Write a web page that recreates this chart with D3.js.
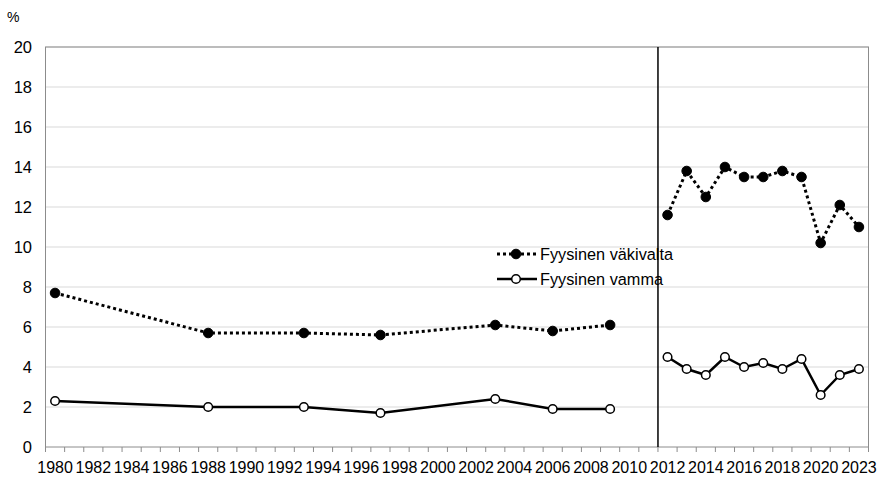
<!DOCTYPE html>
<html><head><meta charset="utf-8">
<script src="https://cdn.jsdelivr.net/npm/d3@7"></script>
<style>body{margin:0;background:#fff}text{font-family:"Liberation Sans",Arial,sans-serif;fill:#000}</style>
</head><body>
<svg id="c" width="881" height="477"></svg>
<script>
const categories = [];
for (let y = 1980; y <= 2021; y++) categories.push(String(y));
categories.push("2023");
const xTickLabels = ["1980","1982","1984","1986","1988","1990","1992","1994","1996","1998","2000","2002","2004","2006","2008","2010","2012","2014","2016","2018","2020","2023"];
const yTicks = [0,2,4,6,8,10,12,14,16,18,20];

const yearsA = ["1980","1988","1993","1997","2003","2006","2009"];
const vakivaltaA = [7.7,5.7,5.7,5.6,6.1,5.8,6.1];
const vammaA = [2.3,2.0,2.0,1.7,2.4,1.9,1.9];

const yearsB = ["2012","2013","2014","2015","2016","2017","2018","2019","2020","2021","2023"];
const vakivaltaB = [11.6,13.8,12.5,14.0,13.5,13.5,13.8,13.5,10.2,12.1,11.0];
const vammaB = [4.5,3.9,3.6,4.5,4.0,4.2,3.9,4.4,2.6,3.6,3.9];

const seriesNames = ["Fyysinen väkivalta","Fyysinen vamma"];

const svg = d3.select("#c");
const L = 45.5, R = 868.5, T = 47, B = 447;
const x = d3.scaleBand().domain(categories).range([L, R]).padding(0);
const y = d3.scaleLinear().domain([0, 20]).range([B, T]);
const cx = d => x(d) + x.bandwidth() / 2;

// gridlines
svg.append("g").selectAll("line").data(yTicks.filter(v => v > 0)).join("line")
  .attr("x1", L).attr("x2", R).attr("y1", d => y(d)).attr("y2", d => y(d))
  .attr("stroke", "#d9d9d9").attr("stroke-width", 1);

// plot border
svg.append("rect").attr("x", L).attr("y", T).attr("width", R - L).attr("height", B - T)
  .attr("fill", "none").attr("stroke", "#8c8c8c").attr("stroke-width", 1);

// y labels
svg.append("g").selectAll("text").data(yTicks).join("text")
  .attr("x", 32).attr("y", d => y(d)).attr("dy", "0.36em").attr("text-anchor", "end")
  .attr("font-size", 16.5).text(d => d);
svg.append("text").attr("x", 7).attr("y", 22).attr("font-size", 14).text("%");

// x ticks at boundaries
const bounds = categories.map(c => x(c)).concat([R]);
svg.append("g").selectAll("line").data(bounds).join("line")
  .attr("x1", d => d).attr("x2", d => d).attr("y1", B).attr("y2", B + 5)
  .attr("stroke", "#8c8c8c").attr("stroke-width", 1);

// x labels
svg.append("g").selectAll("text").data(xTickLabels).join("text")
  .attr("x", d => cx(d)).attr("y", 473).attr("text-anchor", "middle")
  .attr("font-size", 16).text(d => d);

// separator between 2011 and 2012
svg.append("line").attr("x1", x("2012")).attr("x2", x("2012")).attr("y1", T).attr("y2", B)
  .attr("stroke", "#000").attr("stroke-width", 1.5);

const line = d3.line().x(d => cx(d[0])).y(d => y(d[1]));
function drawSeries(years, vals, dotted) {
  const pts = years.map((yr, i) => [yr, vals[i]]);
  svg.append("path").attr("d", line(pts)).attr("fill", "none").attr("stroke", "#000")
    .attr("stroke-width", dotted ? 3 : 2.5)
    .attr("stroke-dasharray", dotted ? "3,3" : null);
  svg.append("g").selectAll("circle").data(pts).join("circle")
    .attr("cx", d => cx(d[0])).attr("cy", d => y(d[1])).attr("r", dotted ? 4.8 : 4.3)
    .attr("fill", dotted ? "#000" : "#fff").attr("stroke", "#000").attr("stroke-width", dotted ? 1 : 1.5);
}
drawSeries(yearsA, vakivaltaA, true);
drawSeries(yearsB, vakivaltaB, true);
drawSeries(yearsA, vammaA, false);
drawSeries(yearsB, vammaB, false);

// legend
const lg = svg.append("g");
[[0, true], [1, false]].forEach(([i, dotted]) => {
  const ly = 254 + i * 25;
  lg.append("line").attr("x1", 497).attr("x2", 537).attr("y1", ly).attr("y2", ly)
    .attr("stroke", "#000").attr("stroke-width", dotted ? 3 : 2.5)
    .attr("stroke-dasharray", dotted ? "3,3" : null);
  lg.append("circle").attr("cx", 516).attr("cy", ly).attr("r", dotted ? 4.8 : 4.3)
    .attr("fill", dotted ? "#000" : "#fff").attr("stroke", "#000").attr("stroke-width", dotted ? 1 : 1.5);
  lg.append("text").attr("x", 540).attr("y", ly).attr("dy", "0.36em").attr("font-size", 16.3).text(seriesNames[i]);
});
</script>
</body></html>
